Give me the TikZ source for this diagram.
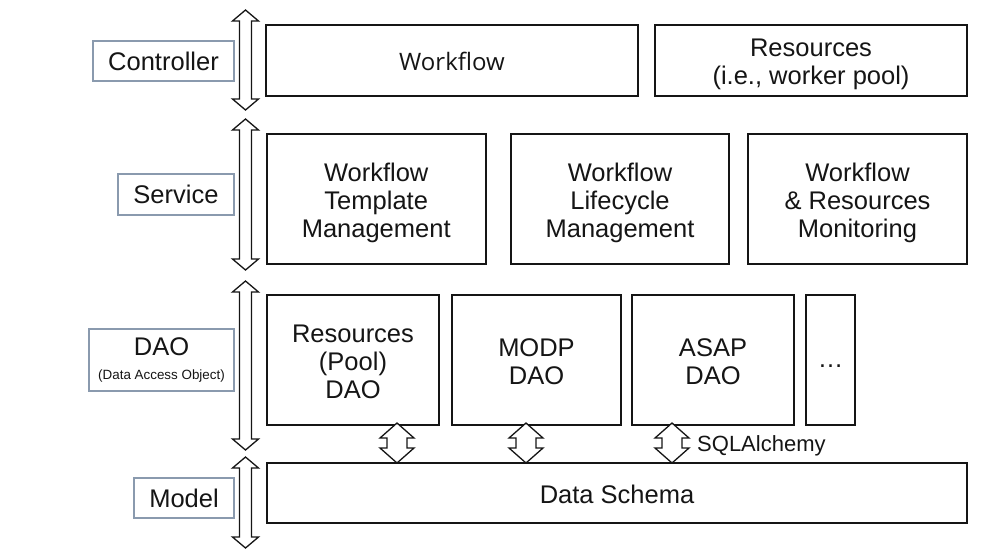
\documentclass[tikz,border=0pt]{standalone}
\usepackage{fontspec}
\setmainfont{Liberation Sans}
\newfontfamily\segoe{Open Sans}
\definecolor{ink}{HTML}{151515}
\definecolor{lblframe}{HTML}{8A9AAE}
\newcommand\vdarrow[6]{% x, ytop, ybot, headw, shaftw, headl
  \draw[arrowline] (#1,#2) -- ({#1+#4/2},{#2+#6}) -- ({#1+#5/2},{#2+#6}) -- ({#1+#5/2},{#3-#6})
    -- ({#1+#4/2},{#3-#6}) -- (#1,#3) -- ({#1-#4/2},{#3-#6}) -- ({#1-#5/2},{#3-#6})
    -- ({#1-#5/2},{#2+#6}) -- ({#1-#4/2},{#2+#6}) -- cycle;}
\begin{document}
\begin{tikzpicture}[x=1pt,y=-1pt,
  box/.style={draw=ink,line width=1.6pt,fill=white,inner sep=0pt},
  btext/.style={text=ink,align=center,inner sep=0pt,font=\fontsize{25.5}{28}\selectfont},
  lbl/.style={draw=lblframe,line width=1.1pt,fill=white,text=ink,align=center,inner sep=0pt,
    font=\fontsize{25.5}{28}\selectfont},
  arrowline/.style={draw=ink,line width=1.3pt,fill=white,line join=miter}]
\useasboundingbox (0,0) rectangle (987,550);
% vertical layer arrows
\vdarrow{245.5}{10}{110}{26}{12}{11}
\vdarrow{245.5}{119}{270}{26}{12}{11}
\vdarrow{245.5}{281}{450}{26}{12}{11}
\vdarrow{245.5}{457}{548}{26}{12}{11}
% layer labels
\node[lbl,minimum width=141pt,minimum height=40pt] (ctl) at (163.5,61) {Controller};
\node[lbl,minimum width=116pt,minimum height=41pt] (svc) at (176,194.5) {Service};
\node[lbl,minimum width=145pt,minimum height=62pt] (dao) at (161.5,360)
  {DAO\\[-4pt]{\fontsize{13.4}{16}\selectfont (Data Access Object)}};
\node[lbl,minimum width=100pt,minimum height=40pt] (mdl) at (184,498) {Model};
% controller layer
\node[box,minimum width=372pt,minimum height=71pt] (wf) at (452,60.5) {};
\node[btext] (wf-t) at ([yshift=-1pt]wf.center) {\fontsize{24}{28}\selectfont\segoe Workflow};
\node[box,minimum width=312pt,minimum height=71pt] (res) at (811,60.5) {};
\node[btext] (res-t) at ([yshift=-4pt]res.center) {Resources\\(i.e., worker pool)};
% service layer
\node[box,minimum width=219pt,minimum height=130pt] (tmpl) at (376.2,199) {};
\node[btext] (tmpl-t) at ([yshift=-4pt]tmpl.center) {Workflow\\Template\\Management};
\node[box,minimum width=218pt,minimum height=130pt] (life) at (620,199) {};
\node[btext] (life-t) at ([yshift=-4pt]life.center) {Workflow\\Lifecycle\\Management};
\node[box,minimum width=219pt,minimum height=130pt] (mon) at (857.5,199) {};
\node[btext] (mon-t) at ([yshift=-4pt]mon.center) {Workflow\\\& Resources\\Monitoring};
% DAO layer
\node[box,minimum width=172pt,minimum height=130pt] (rdao) at (353,360) {};
\node[btext] (rdao-t) at ([yshift=-2pt]rdao.center) {Resources\\(Pool)\\DAO};
\node[box,minimum width=169pt,minimum height=130pt] (mdao) at (536.5,360) {};
\node[btext] (mdao-t) at ([yshift=-2pt]mdao.center) {MODP\\DAO};
\node[box,minimum width=162pt,minimum height=130pt] (adao) at (713,360) {};
\node[btext] (adao-t) at ([yshift=-2pt]adao.center) {ASAP\\DAO};
\node[box,minimum width=49pt,minimum height=130pt] (more) at (830.5,360) {};
\node[btext] (more-t) at ([yshift=-6pt]more.center) {…};
% model layer
\node[box,minimum width=700pt,minimum height=60pt] (schema) at (617,493) {};
\node[btext] (schema-t) at ([yshift=-1pt]schema.center) {Data Schema};
% DAO <-> schema arrows
\vdarrow{397}{423}{463}{34}{20}{15}
\vdarrow{526}{423}{463}{34}{20}{15}
\vdarrow{672}{423}{463}{34}{20}{15}
\node[anchor=west,inner sep=0pt,text=ink,font=\fontsize{22}{24}\selectfont] (sqla) at (697,446) {SQLAlchemy};
\end{tikzpicture}
\end{document}
